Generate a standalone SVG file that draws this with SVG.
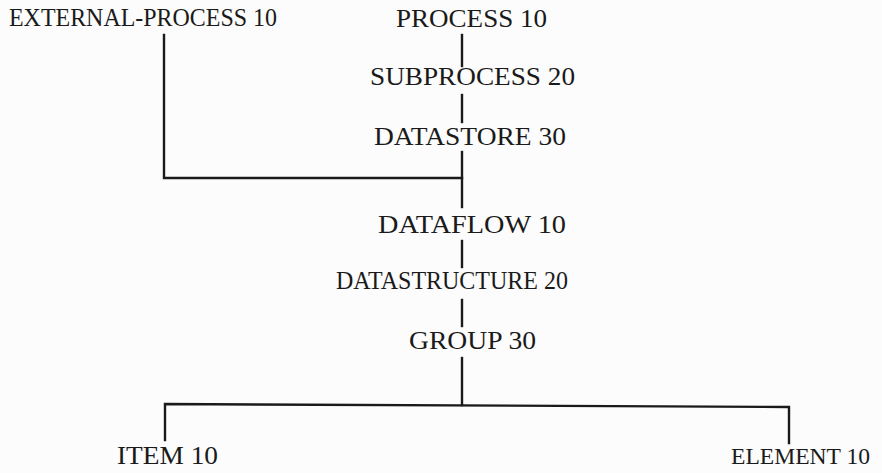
<svg xmlns="http://www.w3.org/2000/svg" width="882" height="473" viewBox="0 0 882 473">
<style>
.t{font-family:"Liberation Serif","Times New Roman",serif;font-size:26px;fill:#1a1a1a}
.c{stroke:#1a1a1a;stroke-width:2.4;fill:none;stroke-linecap:square}
</style>
<rect width="882" height="473" fill="#fcfcfc"/>
<g id="connectors">
<path class="c" d="M164 35 V178 H462"/>
<path class="c" d="M462 35 V66"/>
<path class="c" d="M462 95 V122"/>
<path class="c" d="M462 152 V207"/>
<path class="c" d="M462 241 V267"/>
<path class="c" d="M462 300 V326"/>
<path class="c" d="M462 358 V405"/>
<path class="c" d="M165 440 V404 L789 407 V443"/>
</g>
<g id="external-process"><text class="t" x="9" y="26" textLength="268" lengthAdjust="spacingAndGlyphs">EXTERNAL-PROCESS 10</text></g>
<g id="process"><text class="t" x="396" y="27" textLength="151" lengthAdjust="spacingAndGlyphs">PROCESS 10</text></g>
<g id="subprocess"><text class="t" x="370" y="85" textLength="205" lengthAdjust="spacingAndGlyphs">SUBPROCESS 20</text></g>
<g id="datastore"><text class="t" x="374" y="145" textLength="192" lengthAdjust="spacingAndGlyphs">DATASTORE 30</text></g>
<g id="dataflow"><text class="t" x="378" y="233" textLength="188" lengthAdjust="spacingAndGlyphs">DATAFLOW 10</text></g>
<g id="datastructure"><text class="t" x="336" y="289" textLength="232" lengthAdjust="spacingAndGlyphs">DATASTRUCTURE 20</text></g>
<g id="group"><text class="t" x="409" y="349" textLength="127" lengthAdjust="spacingAndGlyphs">GROUP 30</text></g>
<g id="item"><text class="t" x="117" y="464" textLength="101" lengthAdjust="spacingAndGlyphs">ITEM 10</text></g>
<g id="element"><text class="t" x="731" y="464" style="font-size:24px" textLength="139" lengthAdjust="spacingAndGlyphs">ELEMENT 10</text></g>
</svg>
